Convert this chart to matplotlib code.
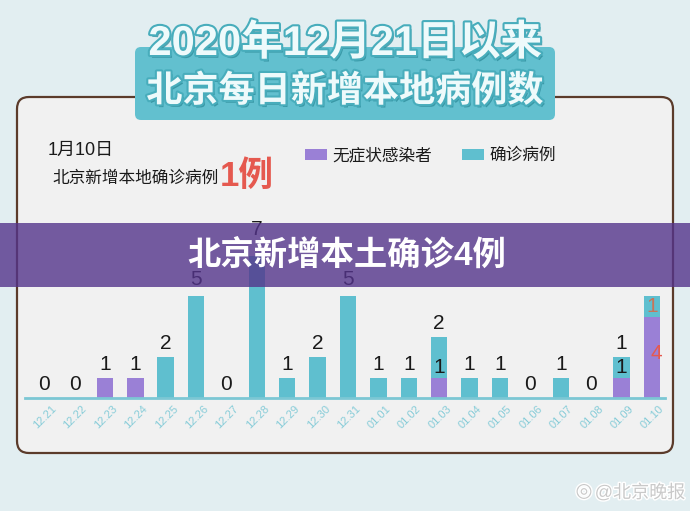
import matplotlib
matplotlib.use('Agg')
import matplotlib.pyplot as plt
import matplotlib.patheffects as pe
from matplotlib.patches import FancyBboxPatch, Rectangle
from matplotlib.transforms import ScaledTranslation
import numpy as np

plt.rcParams['font.family'] = ['Liberation Sans', 'Noto Sans CJK SC', 'DejaVu Sans']

# data
dates = ['12.21', '12.22', '12.23', '12.24', '12.25', '12.26', '12.27',
         '12.28', '12.29', '12.30', '12.31', '01.01', '01.02', '01.03',
         '01.04', '01.05', '01.06', '01.07', '01.08', '01.09', '01.10']
asymptomatic = [0, 0, 1, 1, 0, 0, 0, 0, 0, 0, 0, 0, 0, 1, 0, 0, 0, 0, 0, 1, 4]
confirmed = [0, 0, 0, 0, 2, 5, 0, 7, 1, 2, 5, 1, 1, 2, 1, 1, 0, 1, 0, 1, 1]

title_1 = '2020年12月21日以来'
title_2 = '北京每日新增本地病例数'
banner_text = '北京新增本土确诊4例'

PURPLE = '#9a80d6'
TEAL = '#5fbfcf'
W, H = 690, 511

fig = plt.figure(figsize=(W / 100, H / 100), dpi=100)
fig.patch.set_facecolor('#e2eef1')

# decoration layer in pixel coordinates
bg = fig.add_axes([0, 0, 1, 1])
bg.set_xlim(0, W)
bg.set_ylim(H, 0)
bg.axis('off')

panel = FancyBboxPatch((17, 97), 656, 356, boxstyle='round,pad=0,rounding_size=12',
                       facecolor='#f1f1f1', edgecolor='#5b3b2b', linewidth=1.6)
bg.add_patch(panel)
tbox = FancyBboxPatch((135, 47), 420, 73, boxstyle='round,pad=0,rounding_size=6',
                      facecolor='#62c0cf', edgecolor='none')
bg.add_patch(tbox)

title_fx = [pe.withSimplePatchShadow(offset=(1.5, -2), shadow_rgbFace='#2f8e9c', alpha=0.8),
            pe.withStroke(linewidth=3, foreground='#48adbc')]
bg.text(345, 44, title_1, ha='center', va='center', fontsize=30, color='#eefafb',
        fontweight='bold', path_effects=title_fx)
bg.text(345, 92, title_2, ha='center', va='center', fontsize=26, color='#eefafb',
        fontweight='bold', path_effects=title_fx)

bg.text(48, 150, '1月10日', ha='left', va='center', fontsize=13, color='#1a1a1a')
bg.text(52, 178, '北京新增本地确诊病例', ha='left', va='center', fontsize=12, color='#1a1a1a')
bg.text(220, 176, '1例', ha='left', va='center', fontsize=25, color='#e5594f',
        fontweight='bold')

# legend
bg.add_patch(Rectangle((305, 149), 22, 11, facecolor=PURPLE, edgecolor='none'))
bg.text(332, 155, '无症状感染者', ha='left', va='center', fontsize=12, color='#1a1a1a')
bg.add_patch(Rectangle((462, 149), 22, 11, facecolor=TEAL, edgecolor='none'))
bg.text(489, 155, '确诊病例', ha='left', va='center', fontsize=12, color='#1a1a1a')

# bar chart
base_px, unit_px = 398, 20.3
ax = fig.add_axes([25 / W, (H - base_px) / H, 640 / W, 8 * unit_px / H])
ax.patch.set_alpha(0)
x = np.arange(len(dates))
asym = np.array(asymptomatic)
conf = np.array(confirmed)
ax.bar(x, asym, width=0.54, color=PURPLE, zorder=2)
ax.bar(x, conf, width=0.54, bottom=asym, color=TEAL, zorder=2)
ax.set_xlim(-0.63, 20.43)
ax.set_ylim(0, 8.5)
ax.set_position([25 / W, (H - base_px) / H, 640 / W, 8.5 * unit_px / H])
for s in ['top', 'right', 'left']:
    ax.spines[s].set_visible(False)
ax.spines['bottom'].set_color('#7cc7d4')
ax.spines['bottom'].set_linewidth(2)
ax.set_yticks([])
ax.set_xticks(x)
ax.set_xticklabels(dates, rotation=45, ha='right', va='top', rotation_mode='anchor',
                   fontsize=8, color='#86ccd8')
ax.tick_params(axis='x', length=0, pad=4)
shift = ScaledTranslation(7 / 100, 0, fig.dpi_scale_trans)
for lab in ax.get_xticklabels():
    lab.set_transform(lab.get_transform() + shift)

last = len(dates) - 1
for i in x:
    a, c = asym[i], conf[i]
    if i == last:
        ax.text(i + 0.15, a * 0.55, str(a), ha='center', va='center', fontsize=15,
                color='#e5594f', zorder=3)
        ax.text(i, a + c * 0.5, str(c), ha='center', va='center', fontsize=15,
                color='#c97458', zorder=3)
        continue
    if a and c:
        ax.text(i, a + 0.03, str(a), ha='center', va='bottom', fontsize=15,
                color='#1a1a1a', zorder=3)
    tot = a + c
    pad = 0.2 if tot < 5 else 0.35 + 0.24 * (tot - 5)
    ax.text(i, tot + pad, str(c if c else a), ha='center', va='bottom', fontsize=15,
            color='#1a1a1a', zorder=3)

# overlay banner
top = fig.add_axes([0, 0, 1, 1])
top.set_xlim(0, W)
top.set_ylim(H, 0)
top.axis('off')
top.patch.set_alpha(0)
top.add_patch(Rectangle((0, 223), W, 64, facecolor='#54348b', edgecolor='none', alpha=0.8))
top.text(347, 256, banner_text, ha='center', va='center', fontsize=24,
         color='white', fontweight='bold')

top.text(685, 493, '@北京晚报', ha='right', va='center', fontsize=13, color='#c9c9c9',
         path_effects=[pe.withStroke(linewidth=2, foreground='white')])
top.text(584, 491, '◎', ha='center', va='center', fontsize=14, color='#c9c9c9',
         family=['DejaVu Sans'],
         path_effects=[pe.withStroke(linewidth=2, foreground='white')])

fig.savefig('out.png', dpi=100, facecolor=fig.get_facecolor())
